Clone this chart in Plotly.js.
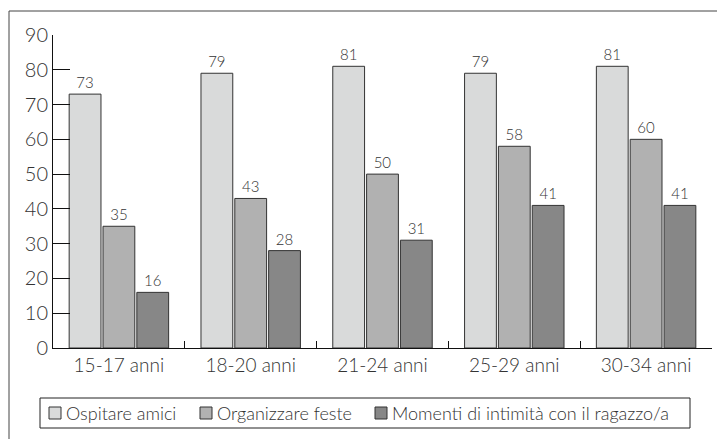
<!DOCTYPE html>
<html><head><meta charset="utf-8">
<script src="https://cdn.plot.ly/plotly-3.0.1.min.js"></script>
<style>html,body{margin:0;padding:0;background:#fff}#c{width:717px;height:439px}</style>
</head><body><div id="c"></div>
<script>
const categories = ["15-17 anni", "18-20 anni", "21-24 anni", "25-29 anni", "30-34 anni"];
const seriesNames = ["Ospitare amici", "Organizzare feste", "Momenti di intimità con il ragazzo/a"];
const ospitareAmici = [73, 79, 81, 79, 81];
const organizzareFeste = [35, 43, 50, 58, 60];
const momentiIntimita = [16, 28, 31, 41, 41];
const yTicks = [0, 10, 20, 30, 40, 50, 60, 70, 80, 90];

const colors = ["#d9dada", "#b1b1b1", "#878787"];
const allSeries = [ospitareAmici, organizzareFeste, momentiIntimita];
const FONT = "Lato, 'Open Sans', sans-serif";
const W = 300;

// pixel -> paper helpers (plot area: x 53..712, y 35..348)
const PX0 = 53, PW = 659, PY0 = 348, PH = 313;
const px = v => (v - PX0) / PW;
const py = v => (PY0 - v) / PH;

const traces = allSeries.map((vals, i) => ({
  type: "bar",
  name: seriesNames[i],
  x: categories,
  y: vals,
  text: vals.map(String),
  textposition: "outside",
  cliponaxis: false,
  textfont: {size: 15, color: "#333", family: FONT, weight: W},
  marker: {color: colors[i], line: {color: "#333", width: 1}}
}));

// custom legend layout (positions only)
const legendSymX = [49, 200, 375];
const legendTextX = [64, 215, 390];

const shapes = [{
  type: "rect", xref: "paper", yref: "paper",
  x0: px(9), x1: px(722), y0: py(450), y1: py(11),
  line: {color: "#444", width: 1}, fillcolor: "rgba(0,0,0,0)", layer: "below"
}, {
  type: "rect", xref: "paper", yref: "paper",
  x0: px(40), x1: px(690), y0: py(428), y1: py(398),
  line: {color: "#222", width: 1}, fillcolor: "rgba(0,0,0,0)"
}];
const annotations = [];
seriesNames.forEach((name, i) => {
  shapes.push({
    type: "rect", xref: "paper", yref: "paper",
    x0: px(legendSymX[i]), x1: px(legendSymX[i] + 12), y0: py(419), y1: py(407),
    line: {color: "#333", width: 1}, fillcolor: colors[i]
  });
  annotations.push({
    xref: "paper", yref: "paper", x: px(legendTextX[i]), y: py(413),
    xanchor: "left", yanchor: "middle", showarrow: false, text: name,
    font: {size: 18, color: "#333", family: FONT, weight: W}
  });
});

const layout = {
  width: 717, height: 439,
  margin: {l: 53, r: 5, t: 35, b: 91},
  paper_bgcolor: "#fff", plot_bgcolor: "#fff",
  font: {family: FONT, color: "#333", weight: W},
  barmode: "group",
  bargap: 0.23,
  bargroupgap: 0.06,
  showlegend: false,
  xaxis: {
    type: "category", showline: true, linecolor: "#111", linewidth: 1,
    ticks: "inside", ticklen: 7, tickcolor: "#111", tickson: "boundaries",
    tickfont: {size: 19, color: "#333", family: FONT, weight: W}, showgrid: false, zeroline: false
  },
  yaxis: {
    range: [0, 90], tickvals: yTicks, ticktext: yTicks.map(String),
    showline: true, linecolor: "#111", linewidth: 1,
    ticks: "inside", ticklen: 17, tickcolor: "#111",
    tickfont: {size: 20, color: "#333", family: FONT, weight: W}, showgrid: false, zeroline: false
  },
  shapes: shapes,
  annotations: annotations
};

Plotly.newPlot("c", traces, layout, {staticPlot: true, displayModeBar: false});
</script></body></html>
